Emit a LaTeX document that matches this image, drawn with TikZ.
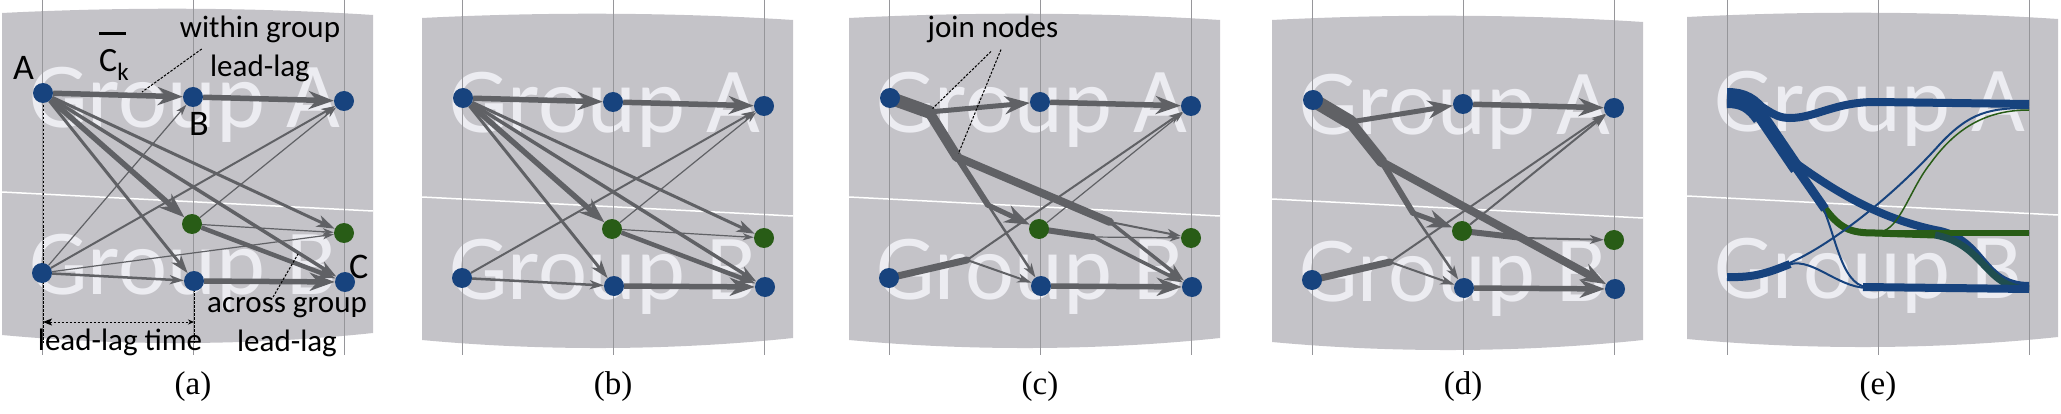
\documentclass[tikz,border=0pt]{standalone}
\usepackage{fontspec}
\setmainfont{Liberation Serif}
\newfontfamily\calibri{Carlito}
\usetikzlibrary{arrows.meta}
\definecolor{panelgray}{RGB}{196,195,200}
\definecolor{wmgray}{RGB}{236,236,241}
\definecolor{guidegray}{RGB}{150,150,154}
\definecolor{linkgray}{RGB}{96,97,101}
\definecolor{nodeblue}{RGB}{23,67,126}
\definecolor{nodegreen}{RGB}{40,92,22}
\pgfdeclarelayer{back}
\pgfdeclarelayer{wires}
\pgfsetlayers{back,wires,main}

\begin{document}
\begin{tikzpicture}[x=1pt,y=-1pt,
  dot/.style={circle,fill=nodeblue,minimum size=20pt,inner sep=0pt},
  gdot/.style={dot,fill=nodegreen},
  lnk/.style={draw=linkgray},
  trunk/.style={lnk,line cap=round},
  heavy/.style={lnk,line width=5.5pt,-{Stealth[length=25pt,width=18pt,inset=8pt]}},
  medium/.style={lnk,line width=3pt,-{Stealth[length=18pt,width=12pt,inset=5pt]}},
  light/.style={lnk,line width=2pt,-{Stealth[length=14pt,width=9pt,inset=4pt]}},
  faint/.style={lnk,line width=1.2pt,-{Stealth[length=11pt,width=7pt,inset=3pt]}},
  flow/.style={draw=nodeblue},
  gflow/.style={draw=nodegreen},
  mflow/.style={draw=nodeblue!55!nodegreen},
  leader/.style={draw=black,line width=1pt,dash pattern=on 2.5pt off 1.5pt},
  lbl/.style={inner sep=0pt,font=\calibri\fontsize{31}{39}\selectfont},
  bigl/.style={inner sep=0pt,font=\calibri\fontsize{36}{36}\selectfont},
  wmark/.style={anchor=base west,inner sep=0pt,text=wmgray,font=\calibri\fontsize{93}{93}\selectfont},
  capt/.style={anchor=base,inner sep=0pt,font=\fontsize{33}{33}\selectfont},
  guide/.style={draw=guidegray,line width=0.8pt},
  divider/.style={draw=white,line width=1.5pt}]
\useasboundingbox (0,0) rectangle (2061,414);

% panel frames, watermarks and time lines
\begin{pgfonlayer}{back}
\foreach \p/\dx/\dy in {a/0/0,b/420/5,c/847/5,d/1270/7,e/1685/4}{
  \begin{scope}[shift={(\dx,\dy)},name prefix=\p-]
    \fill[panelgray] (2,13) .. controls (120,7) and (250,7) .. (373,15) -- (373,333)
      .. controls (250,346) and (120,346) .. (2,335) -- cycle;
    \node[wmark] (grpA) at (29,128) {Group A};
    \node[wmark] (grpB) at (29,294) {Group B};
    \draw[divider] (2,192) -- (373,211);
  \end{scope}
  \foreach \gx in {42,193,344}
    \draw[guide] ({\dx+\gx},0) -- ({\dx+\gx},355);
  \node[capt] (cap-\p) at ({\dx+193},394) {(\p)};
}
\end{pgfonlayer}

% series nodes of the lead-lag graphs
\foreach \p/\dx/\dy in {a/0/0,b/420/5,c/847/5,d/1270/7}{
  \begin{scope}[shift={(\dx,\dy)},name prefix=\p-]
    \node[dot] (t1) at (43,93) {};
    \node[dot] (t2) at (193,97) {};
    \node[dot] (t3) at (344,101) {};
    \node[gdot] (g2) at (192,224) {};
    \node[gdot] (g3) at (344,233) {};
    \node[dot] (b1) at (42,273) {};
    \node[dot] (b2) at (194,281) {};
    \node[dot] (b3) at (345,282) {};
  \end{scope}
}

% (a) full graph
\begin{scope}[name prefix=a-]
\begin{pgfonlayer}{wires}
\draw[heavy] (t1) -- (t2);
\draw[heavy] (t2) -- (t3);
\draw[heavy] (t1) -- (g2);
\draw[medium] (t1) -- (g3);
\draw[medium,line width=3.5pt] (t1) -- (b3);
\draw[medium] (t1) -- (b2);
\draw[faint] (b1) -- (t2);
\draw[light] (b1) -- (t3);
\draw[faint] (b1) -- (g3);
\draw[light,line width=2.5pt] (b1) -- (b2);
\draw[faint] (g2) -- (t3);
\draw[faint] (g2) -- (g3);
\draw[medium,line width=4.5pt] (g2) -- (b3);
\draw[heavy] (b2) -- (b3);
\coordinate (llA) at (43,343);
\coordinate (llB) at (194,343);
\draw[leader] (t1.center) -- (llA);
\draw[leader] (b2.center) -- (llB);
\end{pgfonlayer}
\coordinate (spanL) at (43,322);
\coordinate (spanR) at (194,322);
\draw[leader,{Stealth[length=9pt,width=7pt,inset=2pt]}-{Stealth[length=6pt,width=5pt]}] (spanL) -- (spanR);
\node[bigl,anchor=base] (labA) at (23.5,80) {A};
\node[bigl,anchor=base west] (labB) at (189,136) {B};
\node[bigl,anchor=base west] (labC) at (349,278) {C};
\node[bigl,anchor=base west,font=\calibri\fontsize{34}{34}\selectfont] (ck) at (99,72)
  {\rlap{\rule[37pt]{27pt}{2.5pt}}C\raisebox{-9pt}{\fontsize{25}{25}\selectfont k}};
\node[lbl,align=center] (within) at (260,49) {within group\\lead-lag};
\node[lbl,align=center] (across) at (287,327) {across group\\lead-lag};
\node[lbl,anchor=base] (lltime) at (120,350) {lead-lag time};
\coordinate (wtip) at (142,92);
\coordinate (atip) at (298,254);
\draw[leader] ([xshift=22pt]within.west) -- (wtip);
\draw[leader] ([xshift=-14pt]across.north) -- (atip);
\end{scope}

% (b) reduced graph
\begin{scope}[shift={(420,5)},name prefix=b-]
\begin{pgfonlayer}{wires}
\draw[heavy] (t1) -- (t2);
\draw[heavy] (t2) -- (t3);
\draw[heavy] (t1) -- (g2);
\draw[medium] (t1) -- (g3);
\draw[medium,line width=3.5pt] (t1) -- (b3);
\draw[medium] (t1) -- (b2);
\draw[light] (b1) -- (t3);
\draw[light,line width=2.5pt] (b1) -- (b2);
\draw[faint] (g2) -- (t3);
\draw[faint] (g2) -- (g3);
\draw[medium,line width=4.5pt] (g2) -- (b3);
\draw[heavy] (b2) -- (b3);
\end{pgfonlayer}
\end{scope}

% (c) edges bundled at join nodes
\begin{scope}[shift={(847,5)},name prefix=c-]
\coordinate (j1) at (82,107);
\coordinate (j2) at (110,152);
\coordinate (j3) at (141,200);
\coordinate (j4) at (263,217);
\coordinate (j5) at (120,255);
\coordinate (j6) at (246,232);
\begin{pgfonlayer}{wires}
\draw[trunk,line width=13pt] (t1.center) -- (j1);
\draw[trunk,line width=10pt] (j1) -- (j2);
\draw[heavy,line width=5pt] (j1) -- (t2);
\draw[trunk,line width=8pt] (j2) -- (j4);
\draw[trunk,line width=6pt] (j2) -- (j3);
\draw[heavy,line width=5pt] (j3) -- (g2);
\draw[light,line width=2.5pt] (j3) -- (b2);
\draw[light] (j4) -- (g3);
\draw[medium,line width=3.5pt] (j4) -- (b3);
\draw[trunk,line width=7pt] (b1.center) -- (j5);
\draw[light] (j5) -- (t3);
\draw[light] (j5) -- (b2);
\draw[trunk,line width=6pt] (g2.center) -- (j6);
\draw[faint] (j6) -- (g3);
\draw[medium,line width=3.5pt] (j6) -- (b3);
\draw[faint] (g2) -- (t3);
\draw[heavy] (t2) -- (t3);
\draw[heavy] (b2) -- (b3);
\end{pgfonlayer}
\node[lbl,anchor=base] (joinlbl) at (146,33) {join nodes};
\draw[leader,shorten >=5pt] ([shift={(-2pt,-8pt)}]joinlbl.south) -- (j1);
\draw[leader,shorten >=4pt] ([shift={(8pt,-6pt)}]joinlbl.south) -- (j2);
\end{scope}

% (d) join nodes after merging
\begin{scope}[shift={(1270,7)},name prefix=d-]
\coordinate (j1) at (80,115);
\coordinate (j2) at (112,155);
\coordinate (j3) at (143,206);
\coordinate (j5) at (120,255);
\coordinate (j6) at (253,231);
\begin{pgfonlayer}{wires}
\draw[trunk,line width=14pt] (t1.center) -- (j1);
\draw[trunk,line width=11pt] (j1) -- (j2);
\draw[heavy,line width=5pt] (j1) -- (t2);
\draw[heavy,line width=8pt] (j2) -- (b3);
\draw[trunk,line width=6pt] (j2) -- (j3);
\draw[heavy,line width=5pt] (j3) -- (g2);
\draw[light,line width=2.5pt] (j3) -- (b2);
\draw[trunk,line width=7pt] (b1.center) -- (j5);
\draw[light] (j5) -- (t3);
\draw[light] (j5) -- (b2);
\draw[trunk,line width=6pt] (g2.center) -- (j6);
\draw[light] (j6) -- (g3);
\draw[light] (g2) -- (t3);
\draw[heavy] (t2) -- (t3);
\draw[heavy] (b2) -- (b3);
\end{pgfonlayer}
\end{scope}

% (e) smooth flows
\begin{scope}[shift={(1685,4)}]
\draw[flow,line width=8pt] (60,96) .. controls (80,100) and (85,114) .. (105,114)
  .. controls (130,114) and (150,98) .. (190,98) -- (344,100);
\draw[flow,line width=8pt] (105,155) .. controls (140,180) and (185,212) .. (250,226)
  .. controls (300,234) and (295,282) .. (344,282);
\draw[mflow,line width=1.5pt] (245,226) .. controls (270,229) .. (344,229);
\draw[gflow,line width=5pt] (190,229) -- (344,229);
\draw[gflow,line width=7pt] (138,202) .. controls (155,225) and (165,229) .. (190,229) -- (250,231);
\draw[mflow,line width=7pt] (250,231) .. controls (300,240) and (300,285) .. (344,285);
\draw[flow,line width=2pt] (135,198) .. controls (150,225) and (155,281) .. (182,283);
\draw[flow,line width=8pt] (178,283) -- (344,285);
\draw[flow,line width=8pt] (42,273) .. controls (70,274) and (85,268) .. (105,260);
\draw[flow,line width=2pt] (100,261) .. controls (150,240) and (215,185) .. (255,140)
  .. controls (285,108) and (305,104) .. (344,104);
\draw[flow,line width=2pt] (100,262) .. controls (125,250) and (150,283) .. (182,284);
\draw[gflow,line width=1.5pt] (195,228) .. controls (215,225) and (225,185) .. (245,160)
  .. controls (270,125) and (300,106) .. (344,106);
\draw[flow,line width=20pt] (42,94) .. controls (58,94) and (67,99) .. (77,113);
\draw[flow,line width=14pt] (74,109) -- (112,165);
\draw[flow,line width=9pt] (110,162) -- (140,205);
\end{scope}
\end{tikzpicture}
\end{document}
